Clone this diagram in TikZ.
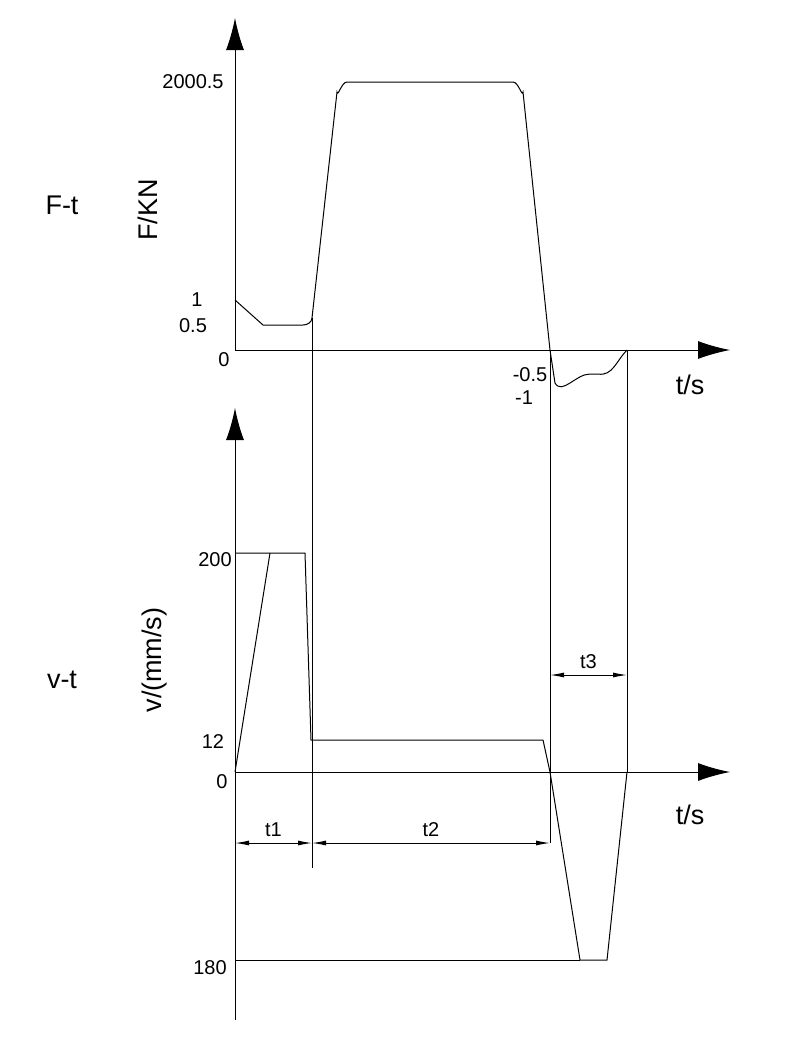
\documentclass[tikz,border=0pt]{standalone}
\usepackage{fontspec}
\setmainfont{Liberation Sans}
\usetikzlibrary{arrows.meta}
\tikzset{
  axis/.style={-{Latex[length=16pt,width=9pt]}},
  dim/.style={{Latex[length=7pt,width=2.5pt]}-{Latex[length=7pt,width=2.5pt]}},
  num/.style={font=\fontsize{10}{12}\selectfont,inner sep=0pt},
  big/.style={font=\fontsize{13.5}{15}\selectfont,inner sep=0pt},
}
\begin{document}
\begin{tikzpicture}[x=0.5pt,y=-0.5pt,line width=0.5pt]
\useasboundingbox (0,0) rectangle (786,1039);
% F-t
\coordinate (Fo) at (235,350);
\draw[axis](Fo) -- (235,18);
\draw[axis](Fo) -- (730,350);
\draw (235,300) -- (263,325) -- (303,325) to[out=0,in=-95] (312,318) -- (337,92)
  to[out=-80,in=180] (347,82) -- (513,82) to[out=0,in=-100] (523,92) -- (550,350) -- (555,383)
  to[out=-60,in=180] (590,374) -- (598,374) to[out=-10,in=-135] (627,350);
\node[big] (Ft) at (62,205) {F-t};
\node[big,rotate=90] (Fl) at (148,210) {F/KN};
\node[num] (F1) at (197,300) {1};
\node[num] (F2) at (193,326) {0.5};
\node[num] (F0) at (224,360) {0};
\node[num] (Fmax) at (193,82) {2000.5};
\node[num] (Fm1) at (530,375) {-0.5};
\node[num] (Fm2) at (524,398) {-1};
\node[big] (ts1) at (690,385) {t/s};
% v-t
\coordinate (vo) at (235,772);
\draw[axis](235,1020) -- (235,408);
\draw[axis](vo) -- (730,772);
\draw (vo) -- (270,553);
\draw (235,553) -- (305,553) -- (311,740) -- (543,740) -- (550,772) -- (580,960) -- (607,960) -- (627,772);
\draw (235,960) -- (580,960);
\node[big] (vt) at (62,680) {v-t};
\node[big,rotate=90] (vl) at (155,660) {v/(mm/s)};
\node[num] (v200) at (215,560) {200};
\node[num] (v12) at (213,742) {12};
\node[num] (v0) at (222,782) {0};
\node[num] (v180) at (210,968) {180};
\node[big] (ts2) at (690,815) {t/s};
% extension lines
\draw (312,318) -- (312,868);
\draw (550,350) -- (550,843);
\draw (627,350) -- (627,772);
% dimensions
\draw[dim] (235,843) -- node[num,above=3pt] (t1) {t1} (312,843);
\draw[dim] (312,843) -- node[num,above=3pt] (t2) {t2} (550,843);
\draw[dim] (550,675) -- node[num,above=3pt] (t3) {t3} (627,675);
\end{tikzpicture}
\end{document}
